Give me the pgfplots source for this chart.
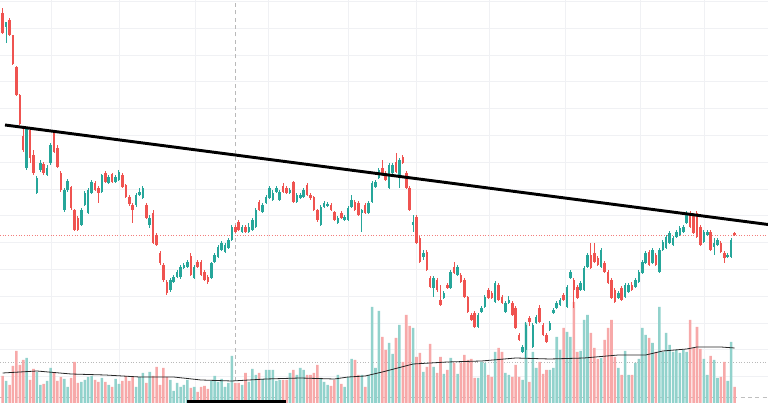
\documentclass[border=0pt]{standalone}
\usepackage{pgfplots}
\usepackage{pgfplotstable}
\pgfplotsset{compat=1.18}

\definecolor{upc}{HTML}{26A69A}
\definecolor{downc}{HTML}{EF5350}
\definecolor{upv}{HTML}{92D2CC}
\definecolor{downv}{HTML}{F7A9A9}
\definecolor{gridc}{HTML}{F0F1F4}

% candle index, open, high, low, close, volume (heights)
\pgfplotstableread{
i o hi lo c v
1 376 381 360 381 22
7 235 276 233 275 45
10 210 227 209 225 31
11 233 243 231 240 18
13 228 238 227 235 22
14 240 260 238 258 35
18 193 215 191 213 24
19 213 224 211 222 16
23 178 195 177 193 21
24 198 212 197 210 23
25 190 215 189 213 26
26 210 223 209 221 27
29 211 229 210 228 25
31 220 228 219 226 18
33 221 228 220 226 24
34 223 233 222 231 19
39 198 210 196 208 16
40 208 215 207 211 26
41 205 217 204 215 30
43 178 188 175 185 31
49 113 125 111 123 23
50 121 128 120 126 12
51 126 133 125 131 20
52 126 138 124 136 16
53 135 140 134 138 18
54 136 143 135 141 23
56 125 138 124 136 16
61 125 141 124 140 22
62 141 150 140 148 27
63 146 158 145 156 21
64 153 162 152 160 24
65 151 160 150 158 16
66 155 165 154 163 20
67 163 178 162 176 47
70 171 178 170 176 18
72 171 180 170 176 21
73 173 185 172 183 34
74 176 195 175 193 28
76 191 200 190 198 24
77 200 208 199 206 33
78 205 217 204 215 33
79 203 213 202 210 33
80 211 217 210 215 22
81 203 213 202 211 23
84 210 215 209 213 30
86 201 210 200 208 28
87 205 210 204 208 35
88 206 215 205 213 33
93 178 198 177 196 25
94 196 202 195 200 21
95 197 201 196 199 18
98 180 187 179 185 28
100 183 188 182 186 16
101 183 197 182 195 26
102 196 208 195 203 44
105 190 194 171 193 28
107 190 202 189 200 28
108 201 222 200 220 96
109 216 223 215 221 35
110 225 235 224 233 92
113 215 240 214 238 60
114 230 240 229 238 49
116 225 245 215 243 78
120 178 188 171 181 75
123 146 153 143 150 31
126 115 127 106 125 36
129 105 112 104 110 29
131 115 133 114 131 45
133 128 138 127 136 29
139 76 90 75 88 25
140 91 97 90 95 41
141 96 108 95 106 40
144 101 122 100 120 51
147 91 102 90 100 30
148 100 107 99 103 28
152 51 58 50 56 23
153 53 81 45 78 80
155 56 80 55 78 51
156 80 88 79 86 35
160 73 82 72 80 33
161 90 95 89 93 35
162 95 102 94 100 66
163 98 105 97 103 53
165 96 118 95 116 71
166 125 133 124 131 66
169 113 122 112 120 52
170 113 137 112 135 83
171 136 150 135 148 88
175 136 155 135 153 45
180 105 112 104 110 35
182 106 120 105 118 52
183 111 120 110 118 28
185 116 125 115 123 40
186 121 133 120 131 44
187 130 143 129 141 75
188 140 152 139 150 68
190 140 155 139 153 60
192 131 155 130 153 96
193 153 163 152 161 51
194 155 168 154 166 70
195 160 172 159 170 58
196 158 167 157 165 51
197 166 173 165 171 53
198 168 177 167 175 50
199 171 178 170 176 53
200 180 192 179 190 51
205 161 173 160 171 44
206 168 173 167 171 28
208 156 165 148 160 43
209 158 165 157 163 25
212 146 150 145 148 22
213 146 165 145 163 61
}\upcandles

\pgfplotstableread{
i o hi lo c v
0 390 395 369 370 27
2 383 385 367 368 18
3 368 368 338 339 37
4 336 337 307 308 52
5 308 309 278 279 38
6 267 275 251 253 43
8 273 275 240 245 23
9 248 253 228 230 34
12 239 241 228 230 19
15 270 273 250 251 30
16 255 258 235 236 22
17 230 232 211 213 26
20 216 217 193 195 25
21 193 194 172 173 41
22 185 187 172 173 20
27 220 222 212 213 23
28 215 217 200 210 21
30 230 232 220 221 21
32 229 230 220 221 16
35 228 230 215 216 22
36 218 219 205 206 27
37 206 208 197 199 22
38 198 200 180 193 26
42 198 200 184 185 20
44 190 193 159 160 27
45 168 170 157 158 36
46 150 152 138 140 18
47 138 140 121 123 35
48 121 123 108 110 26
55 147 150 127 128 15
57 141 143 135 136 11
58 141 143 127 128 16
59 131 133 122 123 17
60 126 128 119 121 14
68 176 178 170 171 20
69 181 183 172 173 20
71 176 178 170 171 30
75 201 203 192 193 30
82 217 220 210 211 23
83 215 217 209 210 23
85 221 222 200 201 33
89 218 220 207 208 28
90 208 210 203 205 28
91 206 207 192 193 30
92 193 194 181 183 38
96 198 200 192 193 17
97 191 192 182 183 23
99 190 192 184 185 19
103 201 203 192 193 43
104 200 202 187 188 28
106 198 200 189 190 16
111 235 243 227 228 66
112 230 232 222 223 53
115 241 250 230 231 65
117 246 248 239 240 41
118 230 232 214 215 88
119 215 217 192 193 77
121 186 188 159 160 46
122 165 167 140 141 50
124 151 153 132 133 36
125 125 127 115 116 59
127 123 125 111 113 30
128 103 118 97 98 46
130 118 120 114 115 33
132 136 141 129 130 40
134 128 130 120 121 40
135 123 125 105 106 48
136 106 107 90 91 43
137 88 90 82 83 44
138 90 92 75 76 25
142 113 115 104 105 28
143 110 112 104 105 26
145 118 120 102 103 55
146 106 108 99 100 51
149 100 102 87 88 26
150 95 97 74 75 38
151 68 70 62 63 26
154 85 87 77 81 21
157 95 98 80 81 41
158 78 80 67 68 29
159 68 70 60 61 33
164 108 110 102 103 75
167 123 125 95 113 101
168 116 118 104 105 51
172 148 160 134 135 70
173 150 160 140 141 55
174 145 147 137 138 44
176 140 142 130 131 63
177 131 133 119 120 75
178 123 125 104 105 83
179 113 115 100 101 46
181 115 117 102 103 28
184 118 121 112 113 28
189 151 153 137 138 65
191 148 150 137 138 51
201 190 192 175 176 83
202 188 190 169 170 55
203 190 192 165 166 76
204 176 178 157 158 54
207 171 173 152 153 47
210 160 162 150 151 26
211 150 152 140 145 41
214 170 171 167 168 16
}\downcandles

\pgfplotsset{
    candle/.style={draw=none, mark=none, mark size=0pt,
        error bars/.cd, y dir=both, y explicit, error mark=none,
        error bar style={draw=#1, line width=0.75pt}},
    body/.style={draw=none, mark=none, mark size=0pt,
        error bars/.cd, y dir=both, y explicit, error mark=none,
        error bar style={draw=#1, line width=1.9pt}},
}

\begin{document}
\begin{tikzpicture}
\begin{axis}[
    scale only axis,
    width=576pt, height=302.25pt,
    xmin=-0.79, xmax=223.77,
    ymin=0, ymax=403,
    axis line style={draw=none},
    major tick length=0pt,
    xtick={14.12,34.01,56.23,77.57,100.96,120.85,142.20,164.42,186.35,205.06},
    ytick={26.3,53.1,79.9,106.7,133.5,160.3,187.1,213.9,240.7,267.5,294.3,321.1,347.9,374.7,401.5},
    xticklabels={}, yticklabels={},
    grid=major,
    grid style={color=gridc, line width=0.6pt},
]

% reference lines
\addplot[gray!55, line width=0.5pt, dash pattern=on 0.7pt off 1.3pt] coordinates {(-0.79,41) (223.77,41)};
\addplot[gray!50, line width=0.6pt, dash pattern=on 3pt off 2.5pt] coordinates {(-0.79,6) (223.77,6)};
\addplot[gray!55, line width=0.6pt, dash pattern=on 3pt off 2.5pt] coordinates {(67.9,0) (67.9,403)};
\addplot[downc!75, line width=0.6pt, dash pattern=on 0.7pt off 1.3pt] coordinates {(-0.79,168) (223.77,168)};

% volume
\addplot[ybar, bar width=0.75, bar shift=0pt, fill=upv, draw=none] table[x=i, y=v] {\upcandles};
\addplot[ybar, bar width=0.75, bar shift=0pt, fill=downv, draw=none] table[x=i, y=v] {\downcandles};

% volume moving average
\addplot[black!85, line width=0.6pt] coordinates {
    (0,30) (10,32) (20,29) (30,28) (40,26) (50,26) (58,23) (67,22) (77,24)
    (87,25) (97,24) (101,26) (106,27) (111,31) (120,39) (130,41) (140,42)
    (150,45) (160,44) (170,45) (180,48) (188,48) (193,52) (200,54) (203,56)
    (210,56) (214,55)
};

% wicks
\addplot[candle=upc]
    table[x=i, y expr={(\thisrow{hi}+\thisrow{lo})/2}, y error expr={(\thisrow{hi}-\thisrow{lo})/2}] {\upcandles};
\addplot[candle=downc]
    table[x=i, y expr={(\thisrow{hi}+\thisrow{lo})/2}, y error expr={(\thisrow{hi}-\thisrow{lo})/2}] {\downcandles};

% bodies
\addplot[body=upc]
    table[x=i, y expr={(\thisrow{o}+\thisrow{c})/2}, y error expr={abs(\thisrow{c}-\thisrow{o})/2}] {\upcandles};
\addplot[body=downc]
    table[x=i, y expr={(\thisrow{o}+\thisrow{c})/2}, y error expr={abs(\thisrow{c}-\thisrow{o})/2}] {\downcandles};

% trendline
\addplot[black, line width=2.2pt] coordinates {(0.67,278) (223.77,178.5)};

% scrollbar thumb
\addplot[fill=black, draw=none] coordinates {(53.9,2.5) (82.8,2.5)} \closedcycle;

\end{axis}
\pgfresetboundingbox
\path[use as bounding box] (current axis.south west) rectangle (current axis.north east);
\end{tikzpicture}
\end{document}
